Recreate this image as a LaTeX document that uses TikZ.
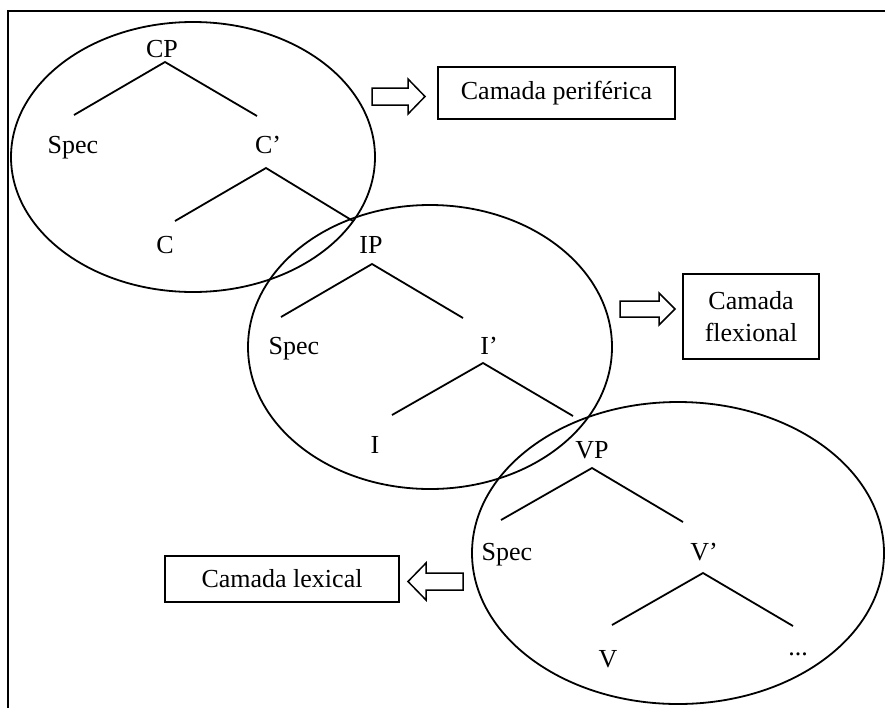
\documentclass[tikz,border=0pt]{standalone}
\usepackage{fontspec}
\setmainfont{Liberation Serif}

\begin{document}
\begin{tikzpicture}[x=1pt,y=-1pt,line width=1.8pt,
    font=\fontsize{26}{32}\selectfont,
    tree label/.style={inner sep=0pt,anchor=base},
    layer box/.style={draw,inner sep=0pt,align=center},
    layer arrow/.style={draw,line width=1.5pt,line join=miter}]
    \useasboundingbox (0,0) rectangle (885,707);
    \clip (0,0) rectangle (885,707);
    \draw (8,11) rectangle (900,720);

    % the three layers
    \draw (193,157) ellipse [x radius=182,y radius=135];
    \draw (430,347) ellipse [x radius=182,y radius=142];
    \draw (678,553) ellipse [x radius=206,y radius=151];

    % CP
    \node[tree label] (CP) at (162,57) {CP};
    \node[tree label] (specC) at (73,153) {Spec};
    \node[tree label] (Cbar) at (268,153) {C’};
    \node[tree label] (C) at (165,253) {C};
    \coordinate (cpTop) at (165,62);
    \coordinate (cpL) at (74,115);
    \coordinate (cpR) at (257,116);
    \coordinate (cbarTop) at (266,168);
    \coordinate (cbarL) at (175,221);
    \coordinate (cbarR) at (353,221);
    \draw (cpL) -- (cpTop) -- (cpR);
    \draw (cbarL) -- (cbarTop) -- (cbarR);

    % IP
    \node[tree label] (IP) at (371,253) {IP};
    \node[tree label] (specI) at (294,354) {Spec};
    \node[tree label] (Ibar) at (489,354) {I’};
    \node[tree label] (I) at (375,453) {I};
    \coordinate (ipTop) at (372,264);
    \coordinate (ipL) at (281,317);
    \coordinate (ipR) at (463,318);
    \coordinate (ibarTop) at (483,363);
    \coordinate (ibarL) at (392,415);
    \coordinate (ibarR) at (573,416);
    \draw (ipL) -- (ipTop) -- (ipR);
    \draw (ibarL) -- (ibarTop) -- (ibarR);

    % VP
    \node[tree label] (VP) at (592,458) {VP};
    \node[tree label] (specV) at (507,560) {Spec};
    \node[tree label] (Vbar) at (704,560) {V’};
    \node[tree label] (V) at (608,667) {V};
    \node[tree label] (rest) at (798,655) {...};
    \coordinate (vpTop) at (592,468);
    \coordinate (vpL) at (501,520);
    \coordinate (vpR) at (683,522);
    \coordinate (vbarTop) at (703,573);
    \coordinate (vbarL) at (612,625);
    \coordinate (vbarR) at (793,626);
    \draw (vpL) -- (vpTop) -- (vpR);
    \draw (vbarL) -- (vbarTop) -- (vbarR);

    % layer names
    \node[layer box,minimum width=237pt,minimum height=52pt] (peri) at (556.5,93) {Camada periférica};
    \node[layer box,minimum width=136pt,minimum height=85pt] (flex) at (751,316.5) {Camada\\flexional};
    \node[layer box,minimum width=234pt,minimum height=46pt] (lex) at (282,579) {Camada lexical};
    \draw[layer arrow] (372,88) -- (408,88) -- (408,79) -- (425,96.5) -- (408,114) -- (408,105) -- (372,105) -- cycle;
    \draw[layer arrow] (620,301) -- (659,301) -- (659,293) -- (675,309) -- (659,325) -- (659,317) -- (620,317) -- cycle;
    \draw[layer arrow] (463,573) -- (426,573) -- (426,563) -- (408,581.5) -- (426,600) -- (426,590) -- (463,590) -- cycle;
\end{tikzpicture}
\end{document}
